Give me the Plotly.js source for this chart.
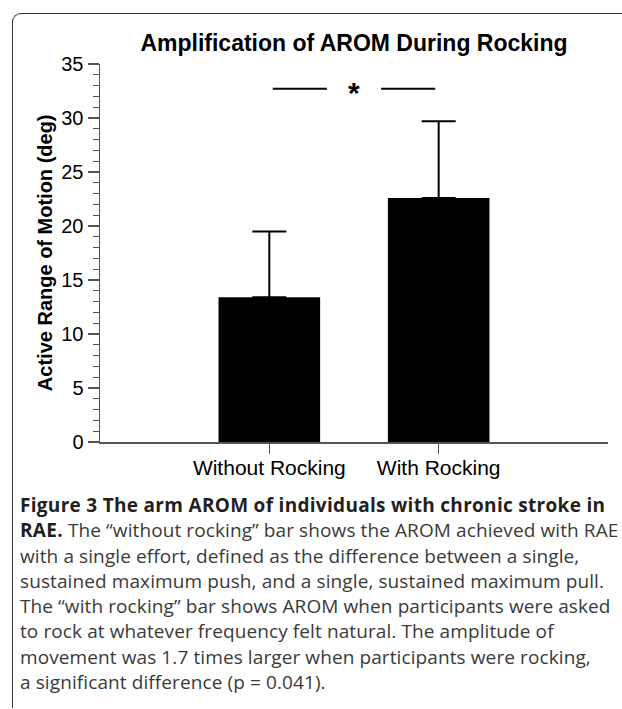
<!DOCTYPE html>
<html>
<head>
<meta charset="utf-8">
<script src="https://cdn.plot.ly/plotly-3.0.1.min.js"></script>
<style>
  html, body { margin: 0; padding: 0; background: #fff; }
  body { width: 622px; height: 709px; position: relative; overflow: hidden; }
  #frame { position: absolute; left: 12px; top: 13px; width: 640px; height: 694px;
           border-left: 1.5px solid #333; border-top: 1.5px solid #333; border-top-left-radius: 9px; }
  #chart { position: absolute; left: 0; top: 0; width: 622px; height: 490px; }
  #caption { position: absolute; left: 20px; top: 493px; width: 602px;
             font-family: "Open Sans", sans-serif; font-size: 19px; line-height: 25.3px;
             letter-spacing: 0.1px; color: #3a3a3a; white-space: nowrap; }
  #caption b { color: #231f20; font-weight: 700; letter-spacing: 0.3px; }
</style>
</head>
<body>
<div id="frame"></div>
<div id="chart"></div>
<div id="caption">
<b>Figure 3 The arm AROM of individuals with chronic stroke in</b><br>
<b>RAE.</b> The “without rocking” bar shows the AROM achieved with RAE<br>
with a single effort, defined as the difference between a single,<br>
sustained maximum push, and a single, sustained maximum pull.<br>
The “with rocking” bar shows AROM when participants were asked<br>
to rock at whatever frequency felt natural. The amplitude of<br>
movement was 1.7 times larger when participants were rocking,<br>
a significant difference (p = 0.041).
</div>
<script>
// Data
var categories = ["Without Rocking", "With Rocking"];
var meanAROM = [13.4, 22.6];
var sdAROM = [6.1, 7.1];
var yTickVals = [0, 5, 10, 15, 20, 25, 30, 35];
var sigLevel = 32.7;      // height of the significance line (deg)
var sigLabel = "*";

var axisColor = "#555";
var font = "Liberation Sans, Arial, sans-serif";

var trace = {
  type: "bar",
  x: categories,
  y: meanAROM,
  width: 0.6,
  marker: { color: "#000", line: { width: 0 } },
  error_y: {
    type: "data", symmetric: false, array: sdAROM, arrayminus: [0, 0],
    color: "#000", thickness: 2, width: 17
  },
  hoverinfo: "none"
};

var layout = {
  width: 622, height: 490,
  margin: { l: 100, r: 14, t: 64, b: 48 },
  paper_bgcolor: "rgba(0,0,0,0)",
  plot_bgcolor: "rgba(0,0,0,0)",
  showlegend: false,
  title: {
    text: "<b>Amplification of AROM During Rocking</b>",
    font: { family: font, size: 23, color: "#000" },
    x: 0.5, xref: "paper", y: 1 - 43 / 490, yref: "container", yanchor: "middle"
  },
  xaxis: {
    type: "category",
    range: [-1, 2],
    showline: true, linecolor: axisColor, linewidth: 1.5,
    ticks: "outside", ticklen: 10, tickwidth: 1.5, tickcolor: axisColor,
    ticklabelstandoff: -4,
    showgrid: false, zeroline: false,
    tickfont: { family: font, size: 21, color: "#000" }
  },
  yaxis: {
    range: [0, 35],
    tickvals: yTickVals,
    showline: true, linecolor: axisColor, linewidth: 1.5,
    ticks: "outside", ticklen: 11, tickwidth: 1.5, tickcolor: axisColor,
    minor: { dtick: 1, ticks: "outside", ticklen: 6, tickwidth: 1.2, tickcolor: axisColor, showgrid: false },
    showgrid: false, zeroline: false,
    tickfont: { family: font, size: 20, color: "#000" }
  },
  annotations: [
    {
      text: "<b>Active Range of Motion (deg)</b>",
      textangle: -90, xref: "paper", yref: "paper",
      x: -0.108, y: 0.5, xanchor: "center", yanchor: "middle", showarrow: false,
      font: { family: font, size: 20, color: "#000" }
    },
    {
      text: "<b>" + sigLabel + "</b>", xref: "x", yref: "y",
      x: 0.5, y: sigLevel, showarrow: false, yanchor: "middle",
      yshift: -4,
      font: { family: font, size: 30, color: "#000" }
    }
  ],
  shapes: [
    { type: "line", xref: "x", yref: "y", x0: 0.02, x1: 0.34, y0: sigLevel, y1: sigLevel,
      line: { color: "#000", width: 2 } },
    { type: "line", xref: "x", yref: "y", x0: 0.66, x1: 0.98, y0: sigLevel, y1: sigLevel,
      line: { color: "#000", width: 2 } }
  ]
};

Plotly.newPlot("chart", [trace], layout, { displayModeBar: false, staticPlot: true });
</script>
</body>
</html>
